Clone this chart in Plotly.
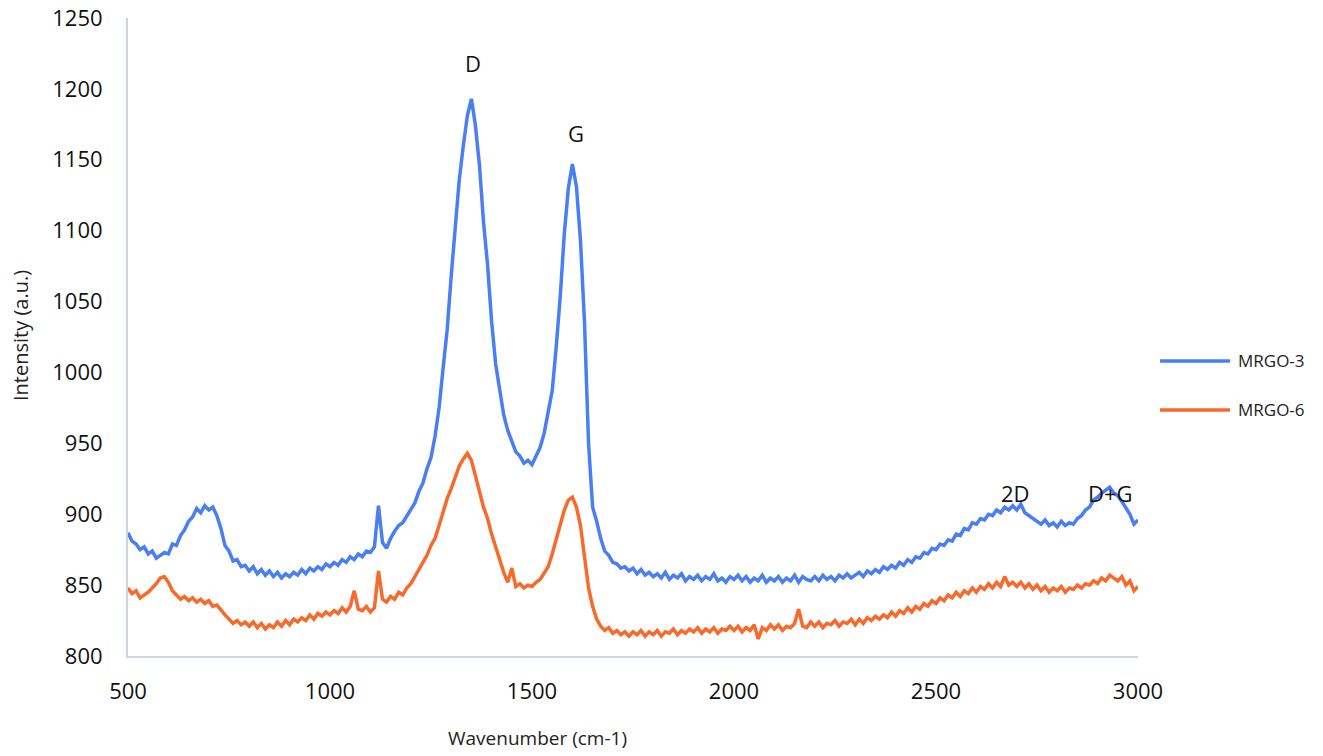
import plotly.graph_objects as go

wavenumber = list(range(500, 3001, 10))

mrgo3 = [
    887, 881, 879, 875, 877, 872, 874, 869, 871, 873,
    872, 879, 878, 885, 889, 895, 898, 904, 901, 906,
    903, 905, 899, 890, 878, 874, 867, 868, 863, 864,
    860, 863, 858, 861, 857, 860, 856, 859, 855, 858,
    856, 859, 857, 861, 858, 862, 860, 863, 861, 865,
    863, 866, 864, 868, 866, 870, 868, 872, 870, 874,
    873, 877, 906, 880, 876, 883, 888, 892, 894, 899,
    904, 908, 916, 922, 932, 940, 955, 975, 1003, 1030,
    1068, 1102, 1136, 1160, 1181, 1193, 1174, 1146, 1106, 1076,
    1036, 1006, 986, 970, 959, 951, 944, 941, 936, 938,
    935, 941, 947, 957, 971, 987, 1018, 1054, 1098, 1130,
    1147, 1131, 1093, 1035, 950, 905, 895, 883, 874, 871,
    866, 865, 862, 863, 860, 862, 858, 861, 857, 859,
    856, 858, 855, 859, 854, 857, 855, 858, 853, 856,
    854, 857, 853, 856, 854, 858, 853, 855, 852, 856,
    854, 857, 853, 856, 852, 855, 853, 857, 852, 855,
    853, 856, 852, 855, 853, 857, 852, 856, 854, 853,
    856, 853, 857, 854, 856, 853, 857, 855, 858, 855,
    857, 859, 856, 860, 858, 861, 859, 863, 861, 864,
    862, 866, 864, 868, 866, 870, 869, 873, 872, 876,
    875, 879, 878, 882, 881, 886, 885, 890, 889, 894,
    893, 897, 896, 900, 899, 903, 901, 905, 903, 906,
    903, 907, 901, 899, 897, 895, 893, 896, 892, 894,
    891, 895, 892, 894, 893, 897, 899, 903, 905, 910,
    912, 915, 917, 919, 915, 913, 909, 904, 900, 893,
    896,
]

mrgo6 = [
    848, 844, 846, 841, 843, 845, 848, 851, 855, 856,
    852, 846, 843, 840, 842, 839, 841, 838, 840, 837,
    839, 835, 836, 832, 829, 826, 823, 825, 822, 824,
    821, 824, 820, 823, 819, 822, 820, 824, 821, 825,
    822, 826, 824, 827, 825, 829, 826, 830, 828, 831,
    829, 832, 830, 834, 831, 835, 846, 833, 832, 835,
    831, 834, 860, 840, 838, 842, 840, 845, 843, 848,
    851, 856, 861, 867, 871, 878, 883, 892, 902, 911,
    918, 927, 934, 939, 943, 938, 926, 916, 905, 897,
    886, 877, 866, 859, 852, 862, 849, 851, 848, 850,
    849, 852, 854, 858, 863, 872, 882, 893, 903, 910,
    912, 905, 892, 870, 848, 835, 826, 821, 818, 820,
    816, 818, 815, 817, 814, 817, 815, 818, 814, 817,
    815, 818, 814, 817, 816, 819, 815, 818, 816, 819,
    817, 820, 816, 819, 817, 820, 816, 819, 818, 821,
    818, 821, 817, 820, 818, 822, 812, 820, 818, 822,
    819, 822, 818, 821, 820, 823, 833, 821, 820, 824,
    821, 824, 820, 823, 822, 825, 821, 824, 823, 826,
    822, 826, 823, 827, 825, 828, 826, 829, 827, 831,
    828, 832, 830, 834, 831, 835, 833, 837, 835, 839,
    837, 841, 839, 843, 841, 845, 842, 846, 844, 848,
    845, 849, 847, 851, 848, 852, 849, 856, 850, 852,
    849, 852, 848, 851, 847, 850, 846, 849, 845, 848,
    846, 849, 845, 848, 847, 850, 848, 851, 850, 853,
    851, 855, 853, 857, 855, 853, 856, 850, 853, 846,
    849,
]

series_names = ["MRGO-3", "MRGO-6"]
series_colors = ["#4a7ff2", "#f76a2c"]

peak_labels = ["D", "G", "2D", "D+G"]
peak_x = [1355, 1610, 2696, 2931]
peak_y = [1218, 1169, 915, 915]

FONT = "Open Sans, Lato, sans-serif"

fig = go.Figure()
for name, ys, col in zip(series_names, [mrgo3, mrgo6], series_colors):
    fig.add_trace(go.Scatter(x=wavenumber, y=ys, mode="lines", name=name,
                             line=dict(color=col, width=3.5), showlegend=False))

# peak labels
for t, px, py in zip(peak_labels, peak_x, peak_y):
    fig.add_annotation(x=px, y=py, text=t, showarrow=False,
                       font=dict(family=FONT, size=22, color="#111"))

# manual legend
leg_y = [0.4624, 0.3856]
for name, col, yy in zip(series_names, series_colors, leg_y):
    fig.add_shape(type="line", xref="paper", yref="paper",
                  x0=1.0218, x1=1.0911, y0=yy, y1=yy,
                  line=dict(color=col, width=3.5))
    fig.add_annotation(xref="paper", yref="paper", x=1.097, y=yy, text=name,
                       showarrow=False, xanchor="left", yanchor="middle",
                       font=dict(family=FONT, size=17, color="#222"))

# axis titles
fig.add_annotation(xref="paper", yref="paper", x=0.405, y=-0.128,
                   text="Wavenumber (cm-1)", showarrow=False,
                   xanchor="center", yanchor="middle",
                   font=dict(family=FONT, size=19, color="#222"))
fig.add_annotation(xref="paper", yref="paper", x=-0.107, y=0.503,
                   text="Intensity (a.u.)", showarrow=False, textangle=-90,
                   xanchor="center", yanchor="middle",
                   font=dict(family=FONT, size=20, color="#222"))

fig.update_layout(
    width=1323, height=756,
    margin=dict(l=128, r=185, t=18, b=100, autoexpand=False),
    paper_bgcolor="white", plot_bgcolor="white",
    font=dict(family=FONT, size=16, color="#111"),
)
fig.update_xaxes(range=[500, 3000], tickvals=[500, 1000, 1500, 2000, 2500, 3000],
                 showgrid=False, zeroline=False, showline=True, automargin=False,
                 linecolor="#cfd6da", linewidth=2, ticklabeloverflow="allow",
                 ticks="outside", ticklen=15, tickcolor="rgba(0,0,0,0)",
                 tickfont=dict(family=FONT, size=22, color="#111"))
fig.update_yaxes(range=[800, 1250], dtick=50,
                 showgrid=False, zeroline=False, showline=True, automargin=False,
                 linecolor="#cfd6da", linewidth=2, ticklabeloverflow="allow",
                 ticks="outside", ticklen=19, tickcolor="rgba(0,0,0,0)",
                 tickfont=dict(family=FONT, size=22, color="#111"))

fig.write_html(
    "out.html",
    config={"displayModeBar": False},
    post_script="document.body.style.margin='0';document.body.style.overflow='hidden';",
)
